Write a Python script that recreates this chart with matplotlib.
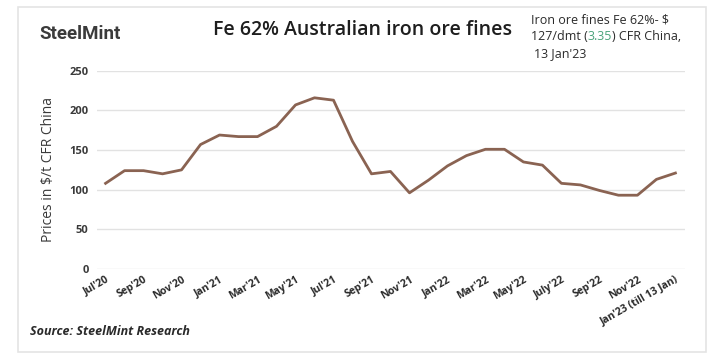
import matplotlib.pyplot as plt
from matplotlib.patches import Rectangle

months = ["Jul'20", "Aug'20", "Sep'20", "Oct'20", "Nov'20", "Dec'20",
          "Jan'21", "Feb'21", "Mar'21", "Apr'21", "May'21", "Jun'21",
          "Jul'21", "Aug'21", "Sep'21", "Oct'21", "Nov'21", "Dec'21",
          "Jan'22", "Feb'22", "Mar'22", "Apr'22", "May'22", "Jun'22",
          "July'22", "Aug'22", "Sep'22", "Oct'22", "Nov'22", "Dec'22",
          "Jan'23 (till 13 Jan)"]
prices = [108, 124, 124, 120, 125, 157,
          169, 167, 167, 180, 207, 216,
          213, 161, 120, 123, 96, 112,
          130, 143, 151, 151, 135, 131,
          108, 106, 99, 93, 93, 113,
          121]
yticks = [0, 50, 100, 150, 200, 250]

plt.rcParams['font.family'] = ['Open Sans', 'DejaVu Sans']

fig = plt.figure(figsize=(7.24, 3.58), dpi=100)
fig.patch.set_facecolor('white')

# card border
fig.patches.append(Rectangle((0.025, 0.018), 0.95, 0.962, transform=fig.transFigure,
                             fill=False, edgecolor='#e4e4e4', lw=1.2))

ax = fig.add_axes([0.134, 0.249, 0.812, 0.553])
x = list(range(len(prices)))
ax.plot(x, prices, color='#8a6352', lw=2)
ax.set_ylim(0, 250)
ax.set_xlim(-0.45, 30.5)
ax.set_yticks(yticks)
ax.yaxis.grid(True, color='#e2e2e2', lw=1)
ax.set_axisbelow(True)
for s in ax.spines.values():
    s.set_visible(False)
ax.tick_params(length=0)
ax.tick_params(axis='y', labelsize=8, labelcolor='#3a3a3a', pad=6)
ax.set_xticks(x[::2])
ax.set_xticklabels(months[::2], rotation=30, ha='right', rotation_mode='anchor',
                   fontsize=7.5, color='#2a2a2a', fontweight='bold')
ax.tick_params(axis='x', pad=4)
for lab in ax.get_yticklabels():
    lab.set_fontweight('bold')
ax.set_ylabel("Prices in $/t CFR China", fontsize=10, color='#3a3a3a', labelpad=10)

# header
fig.text(0.055, 0.905, "SteelMint", fontsize=13.5, fontweight='bold', color='#3b3b3b',
         va='center', family=['Roboto', 'DejaVu Sans'])
fig.text(0.294, 0.915, "Fe 62% Australian iron ore fines", fontsize=14,
         fontweight='semibold', color='#1e1e1e', va='center')

fs = 9
t1 = fig.text(0.733, 0.945, "Iron ore fines Fe 62%- $", fontsize=fs, color='#2a2a2a', va='center')
t2 = fig.text(0.733, 0.898, "127/dmt (", fontsize=fs, color='#2a2a2a', va='center')
t3 = ax.annotate("3.35", xy=(1, 0), xycoords=t2, va='bottom', fontsize=fs, color='#4aa37a')
ax.annotate(") CFR China,", xy=(1, 0), xycoords=t3, va='bottom', fontsize=fs, color='#2a2a2a')
fig.text(0.737, 0.851, "13 Jan'23", fontsize=fs, color='#2a2a2a', va='center')

fig.text(0.042, 0.075, "Source: SteelMint Research", fontsize=9, fontweight='bold',
         fontstyle='italic', color='#2a2a2a', va='center')

fig.savefig('out.png', dpi=100)
